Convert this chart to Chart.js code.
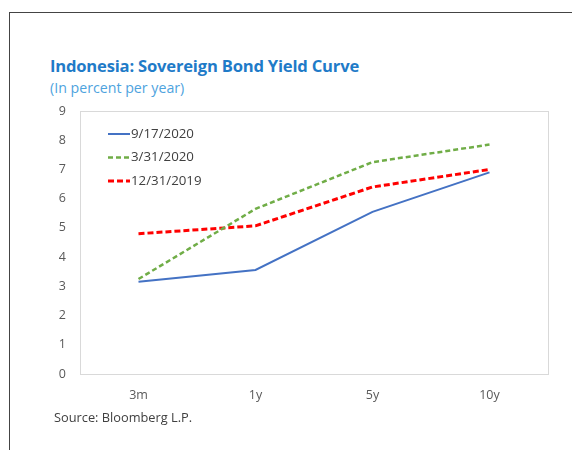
<!DOCTYPE html>
<html>
<head>
<meta charset="utf-8">
<script src="https://cdn.jsdelivr.net/npm/chart.js@4"></script>
<style>
    html, body { margin: 0; padding: 0; background: #fff; }
    body { width: 572px; height: 450px; position: relative; overflow: hidden; font-family: "Open Sans", "Noto Sans", sans-serif; }
    .frame { position: absolute; left: 9px; top: 12px; right: -2px; bottom: -2px; border-top: 1px solid #444; border-left: 1px solid #444; }
    .title { position: absolute; left: 50px; top: 54px; font-size: 16.6px; font-weight: 700; color: #1f7bc8; letter-spacing: -0.2px; }
    .subtitle { position: absolute; left: 50px; top: 78px; font-size: 14.2px; color: #4ea3de; }
    .source { position: absolute; left: 54px; top: 408px; font-size: 12.8px; color: #404040; }
    #wrap { position: absolute; left: 0; top: 0; width: 572px; height: 450px; }
</style>
</head>
<body>
<div class="frame"></div>
<div class="title">Indonesia: Sovereign Bond Yield Curve</div>
<div class="subtitle">(In percent per year)</div>
<div id="wrap"><canvas id="yieldChart"></canvas></div>
<div class="source">Source: Bloomberg L.P.</div>
<script>
const tenors = ["3m", "1y", "5y", "10y"];
const yieldSep2020 = [3.16, 3.56, 5.55, 6.9];
const yieldMar2020 = [3.25, 5.65, 7.25, 7.85];
const yieldDec2019 = [4.8, 5.07, 6.4, 7.0];
const yTicks = [0, 1, 2, 3, 4, 5, 6, 7, 8, 9];

const FONT = "'Open Sans', 'Noto Sans', sans-serif";

// box around the plot area plus a legend drawn inside it, top-left
const boxAndLegend = {
    id: "boxAndLegend",
    afterDraw(chart) {
        const { ctx, chartArea: a } = chart;
        ctx.save();
        ctx.strokeStyle = "#d9d9d9";
        ctx.lineWidth = 1;
        ctx.strokeRect(a.left + 0.5, a.top + 0.5, a.right - a.left, a.bottom - a.top);

        ctx.font = "13.3px " + FONT;
        ctx.textBaseline = "middle";
        chart.data.datasets.forEach((ds, i) => {
            const y = a.top + 23 + i * 23.5;
            const x0 = a.left + 28;
            ctx.beginPath();
            ctx.strokeStyle = ds.borderColor;
            ctx.lineWidth = ds.borderWidth;
            ctx.setLineDash(ds.borderDash || []);
            ctx.moveTo(x0, y);
            ctx.lineTo(x0 + 22, y);
            ctx.stroke();
            ctx.setLineDash([]);
            ctx.fillStyle = "#404040";
            ctx.fillText(ds.label, x0 + 23, y);
        });
        ctx.restore();
    },
};

new Chart(document.getElementById("yieldChart"), {
    type: "line",
    data: {
        labels: tenors,
        datasets: [
            { label: "9/17/2020", data: yieldSep2020, borderColor: "#4472c4", borderWidth: 2, pointRadius: 0, tension: 0 },
            { label: "3/31/2020", data: yieldMar2020, borderColor: "#70ad47", borderWidth: 2.5, borderDash: [5, 3], pointRadius: 0, tension: 0 },
            { label: "12/31/2019", data: yieldDec2019, borderColor: "#ff0000", borderWidth: 3, borderDash: [6, 3], pointRadius: 0, tension: 0 },
        ],
    },
    options: {
        responsive: true,
        maintainAspectRatio: false,
        animation: false,
        layout: { padding: { left: 40, top: 111, right: 24, bottom: 36 } },
        scales: {
            x: {
                offset: true,
                grid: { display: false, drawTicks: false },
                border: { display: false },
                ticks: { color: "#595959", font: { family: FONT, size: 12.5 }, padding: 14 },
                afterFit(s) { s.height = 40; },
            },
            y: {
                min: 0,
                max: 9,
                afterBuildTicks(s) { s.ticks = yTicks.map(v => ({ value: v })); },
                grid: { display: false, drawTicks: false },
                border: { display: false },
                ticks: { color: "#595959", font: { family: FONT, size: 12.5 }, padding: 14 },
                afterFit(s) { s.width = 40; },
            },
        },
        plugins: { legend: { display: false }, tooltip: { enabled: false } },
    },
    plugins: [boxAndLegend],
});
</script>
</body>
</html>
